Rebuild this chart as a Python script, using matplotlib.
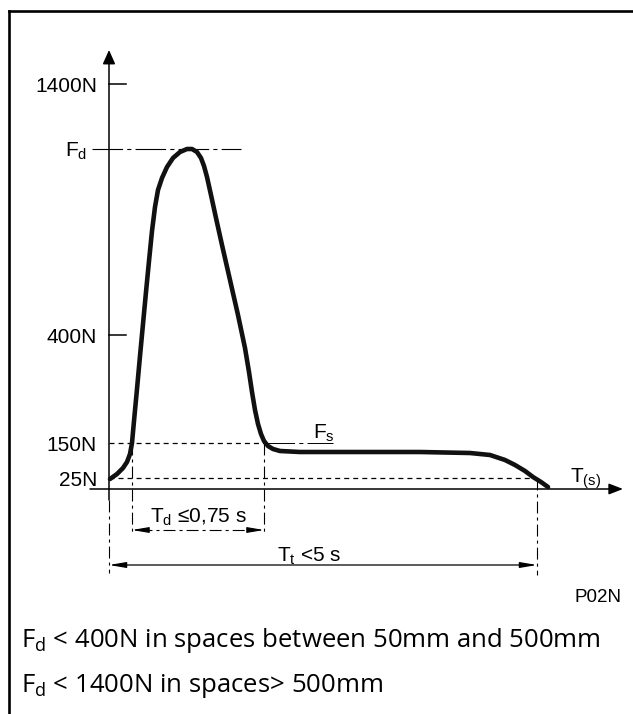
import matplotlib
matplotlib.use("Agg")
import matplotlib.pyplot as plt

plt.rcParams['lines.scale_dashes'] = False
plt.rcParams['mathtext.default'] = 'regular'

# ---------------- data (diagram units: x = time, y = force, origin at axis crossing) ----
force_labels = ['1400N', r'$F_d$', '400N', '150N', '25N']
force_levels = [405, 340, 154, 46, 11]          # vertical positions of the force marks
tick_levels = [405, 154]                         # short ticks on the force axis

curve_t = [1, 8, 14, 18, 21, 23, 25, 28, 31, 34, 37, 40, 43, 46, 49, 53, 58, 64, 71, 78,
           83, 88, 92, 95, 98, 102, 107, 113, 121, 129, 136, 140, 143, 146, 149, 152, 155,
           159, 164, 171, 191, 241, 311, 361, 381, 396, 406, 416, 424, 432, 439]
curve_f = [10, 15, 21, 27, 35, 46, 68, 100, 133, 165, 197, 228, 258, 282, 299, 311, 322,
           331, 337, 340, 340, 337, 331, 323, 312, 294, 271, 244, 209, 174, 141, 117, 97,
           79, 65, 55, 48, 43, 40, 38, 37, 37, 37, 36, 34, 29, 24, 18, 12, 7, 2]

td_start, td_end = 23, 155      # Td interval (150N crossings)
tt_end = 428                    # Tt end (25N crossing)
fd_line_end = 132
fs_line_end = 224

td_text = r'$T_d$ ≤0,75 s'
tt_text = r'$T_t$ <5 s'
fs_text = r'$F_s$'
t_text = r'$T_{(s)}$'
code_text = 'P02N'
notes = [r'$F_d$ < 400N in spaces between 50mm and 500mm',
         r'$F_d$ < 1400N in spaces> 500mm']

# ---------------- figure ----------------
fig = plt.figure(figsize=(6.33, 7.14), dpi=100)
ax = fig.add_axes([0, 0, 1, 1])
ax.set_xlim(-109, 524)
ax.set_ylim(-225, 489)
ax.axis('off')

K = 'black'
LF = 'Liberation Sans'
FS = 15
dash = (3.6, 2.9)
dashdot = (8.6, 2.9, 2.2, 2.9)

# frame
ax.plot([-100.5, -100.5], [-230, 478.5], color=K, lw=1.9, solid_capstyle='projecting')
ax.plot([-100.5, 530], [478.5, 478.5], color=K, lw=1.9, solid_capstyle='projecting')

# axes with arrows
ax.annotate('', xy=(0, 439), xytext=(0, -11),
            arrowprops=dict(arrowstyle='-|>,head_length=0.85,head_width=0.38',
                            mutation_scale=10, lw=1.1, color=K, shrinkA=0, shrinkB=0))
ax.annotate('', xy=(514, 0), xytext=(-19, 0),
            arrowprops=dict(arrowstyle='-|>,head_length=0.85,head_width=0.33',
                            mutation_scale=10, lw=1.1, color=K, shrinkA=0, shrinkB=0))

# ticks
for lv in tick_levels:
    ax.plot([0, 17], [lv, lv], color=K, lw=1.1)

# force labels
for lab, lv in zip(force_labels, force_levels):
    xr = -22 if 'F' in lab else -12
    ax.text(xr, lv - 8, lab, ha='right', va='baseline', fontsize=FS, family=LF)

# reference lines
ax.plot([-17, fd_line_end], [force_levels[1]] * 2, color=K, lw=0.8, dashes=(22, 3, 3, 3))
ax.plot([0, td_end], [force_levels[3]] * 2, color=K, lw=0.9, dashes=dash)
ax.plot([td_end, fs_line_end], [force_levels[3]] * 2, color=K, lw=0.7, dashes=(22, 3, 3, 3))
ax.plot([0, tt_end], [force_levels[4]] * 2, color=K, lw=0.9, dashes=dash)

# vertical construction lines
ax.plot([td_start, td_start], [force_levels[3], -43], color=K, lw=0.8, dashes=dashdot)
ax.plot([td_end, td_end], [force_levels[3], -43], color=K, lw=0.8, dashes=dashdot)
ax.plot([0, 0], [-11, -84], color=K, lw=0.8, dashes=dashdot)
ax.plot([tt_end, tt_end], [force_levels[4], -86], color=K, lw=0.8, dashes=dashdot)

# Td dimension (dash-dot with arrowheads)
ax.plot([td_start + 8, td_end - 8], [-41, -41], color=K, lw=0.8, dashes=dashdot)
ax.annotate('', xy=(td_start, -41), xytext=(td_start + 14, -41),
            arrowprops=dict(arrowstyle='-|>,head_length=1.0,head_width=0.17',
                            mutation_scale=10, lw=0.8, color=K, shrinkA=0, shrinkB=0))
ax.annotate('', xy=(td_end, -41), xytext=(td_end - 14, -41),
            arrowprops=dict(arrowstyle='-|>,head_length=1.0,head_width=0.17',
                            mutation_scale=10, lw=0.8, color=K, shrinkA=0, shrinkB=0))

# Tt dimension
ax.annotate('', xy=(tt_end, -76), xytext=(0, -76),
            arrowprops=dict(arrowstyle='<|-|>,head_length=1.0,head_width=0.17',
                            mutation_scale=10, lw=0.9, color=K, shrinkA=0, shrinkB=0))

# the force curve
ax.plot(curve_t, curve_f, color='#111111', lw=3.3, solid_joinstyle='round',
        solid_capstyle='round', zorder=5)

# labels
ax.text(89, -34, td_text, ha='center', va='baseline', fontsize=FS, family=LF)
ax.text(168, -73, tt_text, ha='left', va='baseline', fontsize=FS, family=LF)
ax.text(204, 50, fs_text, ha='left', va='baseline', fontsize=FS, family=LF)
ax.text(461, 6, t_text, ha='left', va='baseline', fontsize=FS, family=LF)
ax.text(512, -113, code_text, ha='right', va='baseline', fontsize=13.5, family=LF)

for i, note in enumerate(notes):
    ax.text(-88, -158 - 45 * i, note, ha='left', va='baseline', fontsize=18.5,
            family='Open Sans')

fig.savefig('out.png', dpi=100)
